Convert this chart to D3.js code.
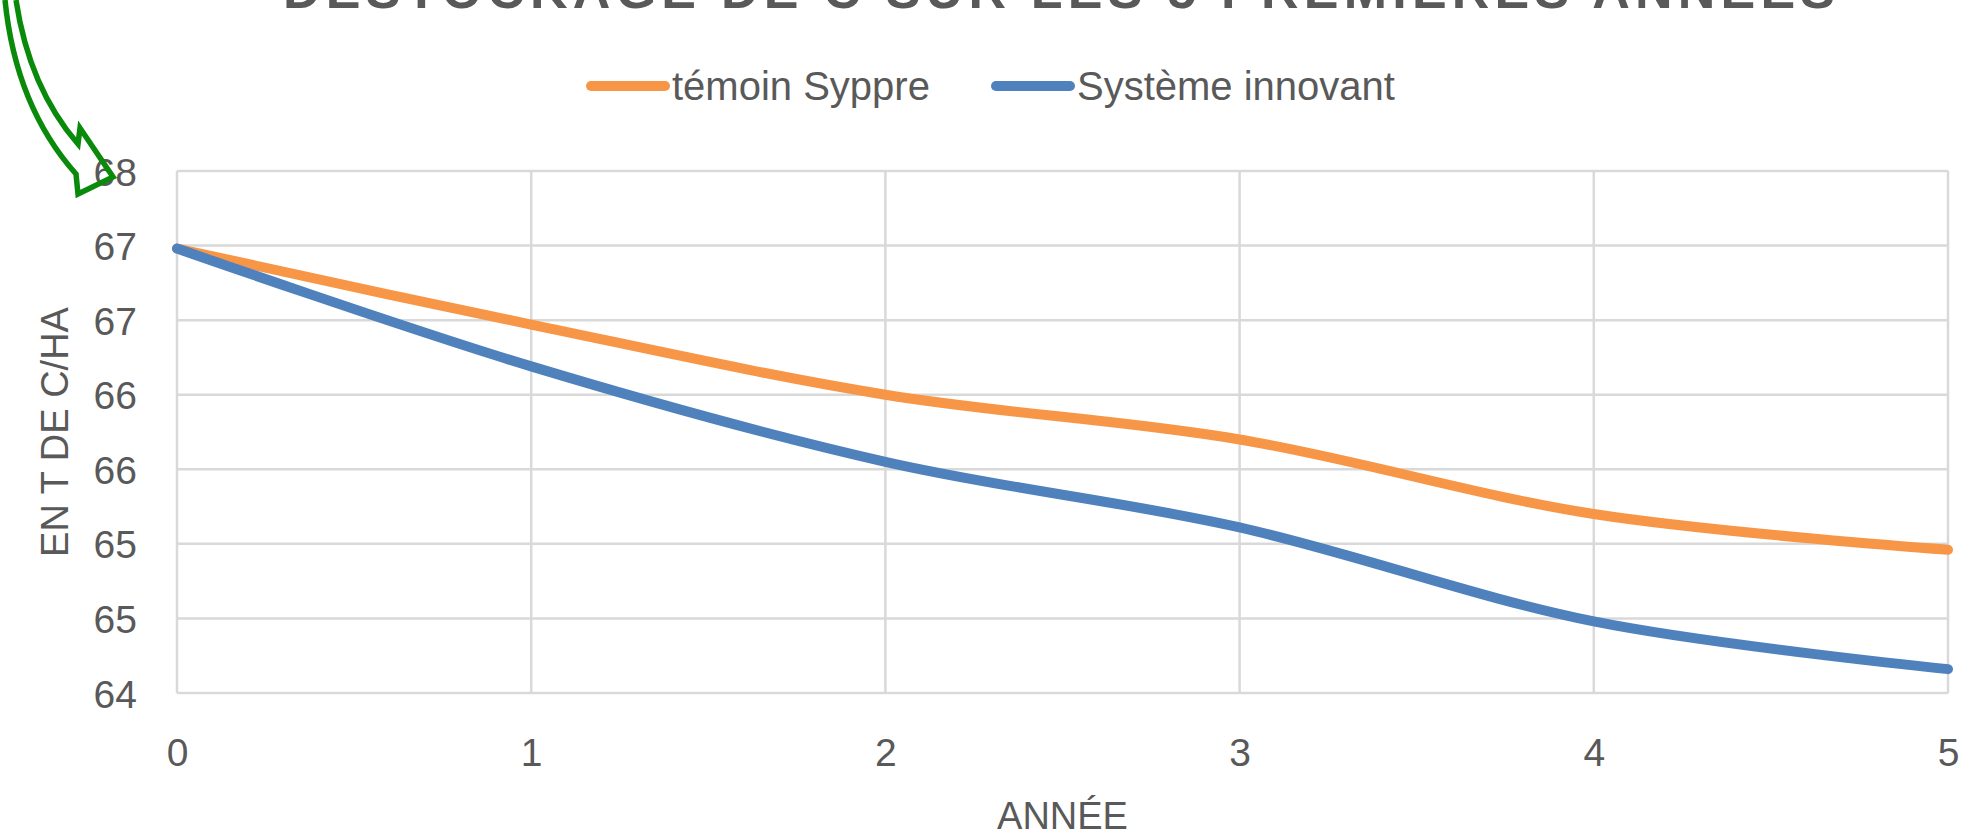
<!DOCTYPE html>
<html>
<head>
<meta charset="utf-8">
<script src="https://cdn.jsdelivr.net/npm/d3@7"></script>
<style>
  body { margin: 0; background: #fff; }
  text { font-family: "Liberation Sans", "DejaVu Sans", sans-serif; fill: #595959; }
</style>
</head>
<body>
<div id="chart"></div>
<script>
var years = [0, 1, 2, 3, 4, 5]
var temoin = [66.98, 66.47, 66.00, 65.70, 65.20, 64.96]
var innovant = [66.98, 66.19, 65.55, 65.11, 64.48, 64.16]
var yTicks = [64, 64.5, 65, 65.5, 66, 66.5, 67, 67.5]
var seriesNames = ['témoin Syppre', 'Système innovant']

var width = 1984,
    height = 837,
    margins = {top: 171, right: 36, bottom: 144, left: 177},
    colors = {
        temoin: '#F79646',
        innovant: '#4F81BD',
        grid: '#d9d9d9',
        arrow: '#0a8a0a'
    }

var svg = d3.select('#chart').append('svg')
    .attr('width', width)
    .attr('height', height)

var x = d3.scaleLinear()
    .domain([0, 5])
    .range([margins.left, width - margins.right])

var y = d3.scaleLinear()
    .domain([64, 67.5])
    .range([height - margins.bottom, margins.top])

// title, cut off by the top edge (as in the original)
svg.append('text')
    .attr('x', 283)
    .attr('y', 8)
    .attr('textLength', 1552)
    .attr('lengthAdjust', 'spacing')
    .style('font-size', '52px')
    .style('font-weight', 'bold')
    .text('DÉSTOCKAGE DE C SUR LES 5 PREMIÈRES ANNÉES')

// grid
svg.append('g')
    .selectAll('line')
    .data(yTicks)
    .enter().append('line')
    .attr('x1', x(0)).attr('x2', x(5))
    .attr('y1', function(d) { return y(d) })
    .attr('y2', function(d) { return y(d) })
    .attr('stroke', colors.grid)
    .attr('stroke-width', 2.5)

svg.append('g')
    .selectAll('line')
    .data(years)
    .enter().append('line')
    .attr('x1', function(d) { return x(d) })
    .attr('x2', function(d) { return x(d) })
    .attr('y1', y(67.5)).attr('y2', y(64))
    .attr('stroke', colors.grid)
    .attr('stroke-width', 2.5)

// axes (labels only)
var yAxis = svg.append('g')
    .attr('transform', 'translate(' + (margins.left - 40) + ',0)')
    .call(d3.axisLeft(y).tickValues(yTicks).tickSize(0).tickFormat(function(d) { return Math.round(d) }))
yAxis.select('.domain').remove()
yAxis.selectAll('text').style('font-size', '39px').attr('dy', '0.36em').attr('x', 0)

var xAxis = svg.append('g')
    .attr('transform', 'translate(0,' + (height - margins.bottom) + ')')
    .call(d3.axisBottom(x).tickValues(years).tickSize(0).tickFormat(d3.format('d')))
xAxis.select('.domain').remove()
xAxis.selectAll('text').style('font-size', '39px').attr('y', 45).attr('dy', '0.71em')

svg.append('text')
    .attr('x', (x(0) + x(5)) / 2)
    .attr('y', 829)
    .attr('text-anchor', 'middle')
    .style('font-size', '38px')
    .text('ANNÉE')

svg.append('text')
    .attr('transform', 'translate(68,' + ((y(64) + y(67.5)) / 2) + ') rotate(-90)')
    .attr('text-anchor', 'middle')
    .style('font-size', '38px')
    .text('EN T DE C/HA')

// lines
var line = d3.line()
    .x(function(d, i) { return x(years[i]) })
    .y(function(d) { return y(d) })
    .curve(d3.curveCardinal.tension(0))

svg.append('path')
    .datum(temoin)
    .attr('d', line)
    .attr('fill', 'none')
    .attr('stroke', colors.temoin)
    .attr('stroke-width', 10)
    .attr('stroke-linecap', 'round')

svg.append('path')
    .datum(innovant)
    .attr('d', line)
    .attr('fill', 'none')
    .attr('stroke', colors.innovant)
    .attr('stroke-width', 10)
    .attr('stroke-linecap', 'round')

// legend
var legend = svg.append('g')
var legendItems = [
    {name: seriesNames[0], color: colors.temoin, x: 591},
    {name: seriesNames[1], color: colors.innovant, x: 996}
]
legendItems.forEach(function(d) {
    legend.append('line')
        .attr('x1', d.x).attr('x2', d.x + 74)
        .attr('y1', 86).attr('y2', 86)
        .attr('stroke', d.color)
        .attr('stroke-width', 10)
        .attr('stroke-linecap', 'round')
    legend.append('text')
        .attr('x', d.x + 81)
        .attr('y', 100)
        .style('font-size', '40px')
        .text(d.name)
})

// green hand-drawn arrow pointing at the top tick
svg.append('path')
    .attr('d', 'M 5,0 C 12,70 35,128 76,174 L 78,194 L 113,177 L 80,128 L 78,144 C 45,106 25,60 16,0')
    .attr('fill', 'none')
    .attr('stroke', colors.arrow)
    .attr('stroke-width', 5.5)
    .attr('stroke-linejoin', 'miter')
</script>
</body>
</html>
